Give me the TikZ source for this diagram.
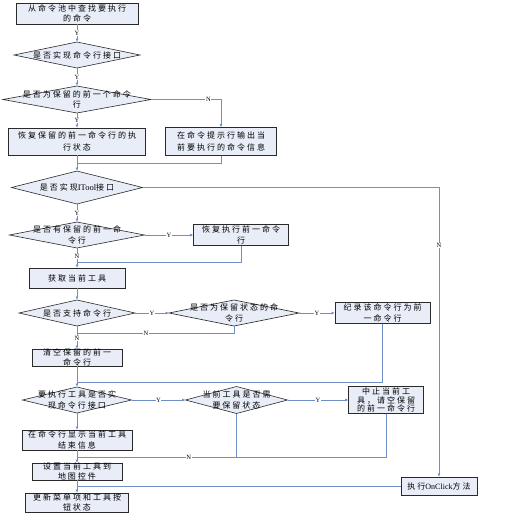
\documentclass[tikz,border=0pt]{standalone}
\usepackage{fontspec}
\usepackage{xcolor}
\usetikzlibrary{arrows.meta, positioning, shapes.geometric, calc}
\newfontfamily\cjkfont[LetterSpace=25]{Noto Sans CJK SC}
\newfontfamily\latinfont{Liberation Serif}
\definecolor{boxfill}{HTML}{E8EDF7}
\definecolor{boxline}{HTML}{2A2A2A}
\definecolor{linkblue}{HTML}{6F8FC8}

\begin{document}
\begin{tikzpicture}[
  x=1pt, y=1pt,
  box/.style   = {draw=boxline, fill=boxfill, line width=0.9pt, inner sep=0pt,
                  outer sep=0pt},
  dec/.style   = {diamond, draw=boxline, fill=boxfill, line width=0.6pt,
                  inner sep=0pt, outer sep=0pt},
  txt/.style   = {align=center, inner sep=0pt,
                  font=\cjkfont\fontsize{8}{10.5}\selectfont},
  flow/.style  = {-{Latex[length=3.5pt, width=3pt]}, draw=linkblue, line width=0.8pt},
  merge/.style = {draw=linkblue, line width=0.8pt},
  yn/.style    = {font=\latinfont\fontsize{6.5}{6.5}\selectfont, fill=white,
                  inner sep=0.6pt},
]
\useasboundingbox (0,0) rectangle (513,-514);

% ---- main column
\node[box, minimum width=122pt, minimum height=21pt, at={(77,-13.5)},
      label={[txt]center:从命令池中查找要执行\\的命令}] (pool) {};
\node[dec, minimum width=126pt, minimum height=26pt, below=18pt of pool,
      label={[txt]center:是否实现命令行接口}] (iface) {};
\node[dec, minimum width=148pt, minimum height=27pt, below=18pt of iface,
      label={[txt]center:是否为保留的前一个命令\\行}] (prev) {};
\node[box, minimum width=137pt, minimum height=27pt, below=15pt of prev,
      label={[txt, font=\cjkfont\fontsize{8}{12}\selectfont]center:恢复保留的前一命令行的执\\行状态}] (restore) {};
\node[box, minimum width=111pt, minimum height=28pt, right=20pt of restore,
      label={[txt, font=\cjkfont\fontsize{8}{12}\selectfont]center:在命令提示行输出当\\前要执行的命令信息}] (prompt) {};
\node[dec, minimum width=131pt, minimum height=33pt, below=16pt of restore,
      label={[txt]center:是否实现{\latinfont\fontsize{8.5}{10}\selectfont ITool}接口}] (itool) {};
\node[dec, minimum width=135pt, minimum height=26pt, below=18pt of itool,
      label={[txt]center:是否有保留的前一命\\令行}] (hasprev) {};
\node[box, minimum width=95pt, minimum height=21pt, right=49pt of hasprev,
      label={[txt]center:恢复执行前一命令\\行}] (redo) {};
\node[box, minimum width=96pt, minimum height=20pt, below=20pt of hasprev,
      label={[txt]center:获取当前工具}] (gettool) {};
\node[dec, minimum width=116pt, minimum height=26pt, below=12pt of gettool,
      label={[txt]center:是否支持命令行}] (support) {};
\node[dec, minimum width=130pt, minimum height=26pt, right=34pt of support,
      label={[txt]center:是否为保留状态的命\\令行}] (keepcmd) {};
\node[box, minimum width=95pt, minimum height=21pt, right=36pt of keepcmd,
      label={[txt]center:纪录该命令行为前\\一命令行}] (record) {};
\node[box, minimum width=90pt, minimum height=17pt, below=23pt of support,
      label={[txt, font=\cjkfont\fontsize{8}{9.5}\selectfont]center:清空保留的前一\\命令行}] (clear) {};
\node[dec, minimum width=109pt, minimum height=26pt, below=21pt of clear,
      label={[txt]center:要执行工具是否实\\现命令行接口}] (toolcmd) {};
\node[dec, minimum width=102pt, minimum height=27pt, right=54pt of toolcmd,
      label={[txt]center:当前工具是否需\\要保留状态}] (needkeep) {};
\node[box, minimum width=75pt, minimum height=27pt, right=61pt of needkeep,
      label={[txt, font=\cjkfont\fontsize{8}{8.6}\selectfont]center:中止当前工\\具，请空保留\\的前一命令行}] (abort) {};
\node[box, minimum width=110pt, minimum height=20pt, below=17pt of toolcmd,
      label={[txt]center:在命令行显示当前工具\\结束信息}] (endmsg) {};
\node[box, minimum width=90pt, minimum height=17pt, below=13pt of endmsg,
      label={[txt, font=\cjkfont\fontsize{8}{9.5}\selectfont]center:设置当前工具到\\地图控件}] (settool) {};
\node[box, minimum width=103pt, minimum height=19pt, below=13pt of settool,
      label={[txt]center:更新菜单项和工具按\\钮状态}] (update) {};
\node[box, minimum width=76pt, minimum height=18pt, at={(439,-486)},
      label={[txt]center:执行{\latinfont\fontsize{8}{10}\selectfont OnClick}方法}] (onclick) {};

% ---- connectors
\draw[flow] (pool) -- node[yn]{Y} (iface);
\draw[flow] (iface) -- node[yn]{Y} (prev);
\draw[flow] (prev) -- node[yn]{Y} (restore);
\draw[flow] (prev.east) -| node[yn, pos=0.41]{N} (prompt.north);
\draw[flow] (restore) -- (itool);
\coordinate (j1) at ($(restore.south)!0.5!(itool.north)$);
\draw[merge] (prompt.south) |- (j1);
\draw[flow] (itool.east) -| node[yn, pos=0.6]{N} (onclick.north);

\draw[flow] (itool) -- node[yn]{Y} (hasprev);
\draw[flow] (hasprev) -- node[yn]{Y} (redo);
\draw[flow] (hasprev) -- node[yn, pos=0.42]{N} (gettool);
\coordinate (j2) at ($(hasprev.south)!0.7!(gettool.north)$);
\draw[merge] (redo.south) |- (j2);

\draw[flow] (gettool) -- (support);
\draw[flow] (support) -- node[yn]{Y} (keepcmd);
\draw[flow] (support) -- node[yn, pos=0.55]{N} (clear);
\coordinate (j3) at ($(support.south)!0.3!(clear.north)$);
\draw[merge] (keepcmd.south) |- node[yn, pos=0.78]{N} (j3);
\draw[flow] (keepcmd) -- node[yn]{Y} (record);
\coordinate (j4) at ($(clear.south)!0.76!(toolcmd.north)$);
\draw[merge] (record.south) |- (j4);

\draw[flow] (clear) -- (toolcmd);
\draw[flow] (toolcmd) -- node[yn]{Y} (needkeep);
\draw[flow] (needkeep) -- node[yn]{Y} (abort);
\draw[flow] (toolcmd) -- (endmsg);
\coordinate (j5) at ($(endmsg.south)!0.54!(settool.north)$);
\draw[merge] (abort.south) |- (j5);
\draw[merge] (needkeep.south) |- node[yn, pos=0.65]{N} (j5);

\draw[flow] (endmsg) -- (settool);
\draw[flow] (settool) -- (update);
\coordinate (j6) at (settool.south |- onclick.west);
\draw[merge] (onclick.west) -- (j6);

\end{tikzpicture}
\end{document}
